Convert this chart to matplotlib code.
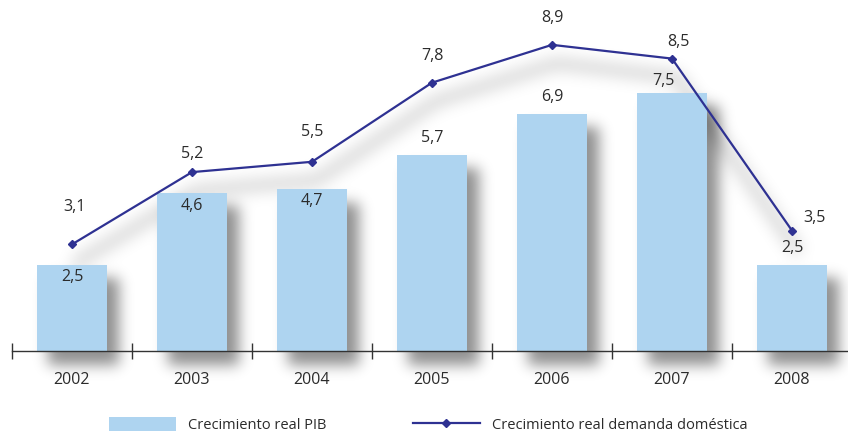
import numpy as np
import matplotlib
matplotlib.use("Agg")
import matplotlib.pyplot as plt
from matplotlib.patches import Patch
from matplotlib.lines import Line2D

# Crecimiento real PIB vs demanda doméstica
years = ["2002", "2003", "2004", "2005", "2006", "2007", "2008"]
pib = [2.5, 4.6, 4.7, 5.7, 6.9, 7.5, 2.5]
demanda = [3.1, 5.2, 5.5, 7.8, 8.9, 8.5, 3.5]

# label offsets in pixels (dx, dy)
pib_off = [(0, -12), (0, -13), (0, -12), (0, 17), (0, 17), (-9, 12), (0, 17)]
dem_off = [(3, 37), (0, 18), (0, 30), (0, 27), (0, 27), (6, 17), (23, 13)]

BAR_C = "#aed4f0"
LINE_C = "#2e3192"
TXT_C = "#2b2b2b"
FONT = ["Open Sans", "DejaVu Sans"]

W, H = 848, 433
fig = plt.figure(figsize=(W / 100, H / 100), dpi=100)
bg = fig.add_axes([0, 0, 1, 1], zorder=0)
ax = fig.add_axes([12 / W, 82 / H, 836 / W, 351 / H], zorder=1)
ax.set_facecolor("none")

x = np.arange(len(years))
bw = 0.59
ax.set_xlim(-0.5, -0.5 + 836 / 120)
ax.set_ylim(0, 351 / 34.4)

ax.bar(x, pib, width=bw, color=BAR_C, zorder=2)
ax.plot(x, demanda, color=LINE_C, lw=1.6, marker="D", ms=4.5, zorder=3)

for xi, v, (dx, dy) in zip(x, pib, pib_off):
    ax.annotate(f"{v:.1f}".replace(".", ","), (xi, v), xytext=(dx, dy),
                textcoords="offset pixels", ha="center", va="center",
                fontsize=11.5, color=TXT_C, family=FONT, zorder=4)
for xi, v, (dx, dy) in zip(x, demanda, dem_off):
    ax.annotate(f"{v:.1f}".replace(".", ","), (xi, v), xytext=(dx, dy),
                textcoords="offset pixels", ha="center", va="center",
                fontsize=11.5, color=TXT_C, family=FONT, zorder=4)

for s in ("left", "right", "top"):
    ax.spines[s].set_visible(False)
ax.spines["bottom"].set_color("#333333")
ax.spines["bottom"].set_linewidth(1.0)
ax.set_yticks([])
ax.set_xticks(x)
ax.set_xticklabels(years, family=FONT, fontsize=11.5, color=TXT_C)
ax.set_xticks(np.arange(-0.5, len(years) - 0.5), minor=True)
ax.tick_params(axis="x", which="major", length=0, pad=15)
ax.tick_params(axis="x", which="minor", length=12, direction="inout",
               color="#333333", width=1.0)

# soft drop shadows rendered as a blurred raster behind the chart
def blur(a, s):
    k = np.arange(-3 * s, 3 * s + 1)
    g = np.exp(-k ** 2 / (2.0 * s * s))
    g /= g.sum()
    a = np.apply_along_axis(lambda r: np.convolve(r, g, mode="same"), 1, a)
    a = np.apply_along_axis(lambda c: np.convolve(c, g, mode="same"), 0, a)
    return a

yy, xx = np.mgrid[0:H, 0:W]
bar_mask = np.zeros((H, W))
for xi, v in zip(x, pib):
    x0, y0 = ax.transData.transform((xi - bw / 2, 0))
    x1, y1 = ax.transData.transform((xi + bw / 2, v))
    top, bot = H - y1 + 13, H - y0 + 13
    bar_mask[(yy >= top) & (yy <= bot) & (xx >= x0 + 11) & (xx <= x1 + 11)] = 1
bar_sh = blur(bar_mask, 7)

pts = ax.transData.transform(np.column_stack([x, demanda]))
pts[:, 1] = H - pts[:, 1] + 18
pts[:, 0] += 4
dist = np.full((H, W), np.inf)
for (ax0, ay0), (ax1, ay1) in zip(pts[:-1], pts[1:]):
    vx, vy = ax1 - ax0, ay1 - ay0
    t = ((xx - ax0) * vx + (yy - ay0) * vy) / (vx * vx + vy * vy)
    t = np.clip(t, 0, 1)
    d = np.hypot(xx - (ax0 + t * vx), yy - (ay0 + t * vy))
    dist = np.minimum(dist, d)
line_sh = blur((dist <= 5).astype(float), 8)

rgba = np.zeros((H, W, 4))
rgba[..., 3] = np.clip(bar_sh * 0.44 + line_sh * 0.2, 0, 1)
bg.imshow(rgba, extent=(0, W, 0, H), origin="upper", interpolation="bilinear")
bg.set_xlim(0, W)
bg.set_ylim(0, H)
bg.axis("off")

handles = [Patch(facecolor=BAR_C, edgecolor="none"),
           Line2D([], [], color=LINE_C, lw=1.6, marker="D", ms=4.5)]
fig.legend(handles, ["Crecimiento real PIB", "Crecimiento real demanda doméstica"],
           loc="lower left", bbox_to_anchor=(109 / W, 0.0), ncol=2,
           frameon=False, borderpad=0, borderaxespad=0,
           handlelength=4.6, handleheight=1.15, handletextpad=0.85,
           columnspacing=5.9, numpoints=1,
           prop={"family": FONT, "size": 10.5}, labelcolor=TXT_C)

fig.savefig("out.png", dpi=100)
